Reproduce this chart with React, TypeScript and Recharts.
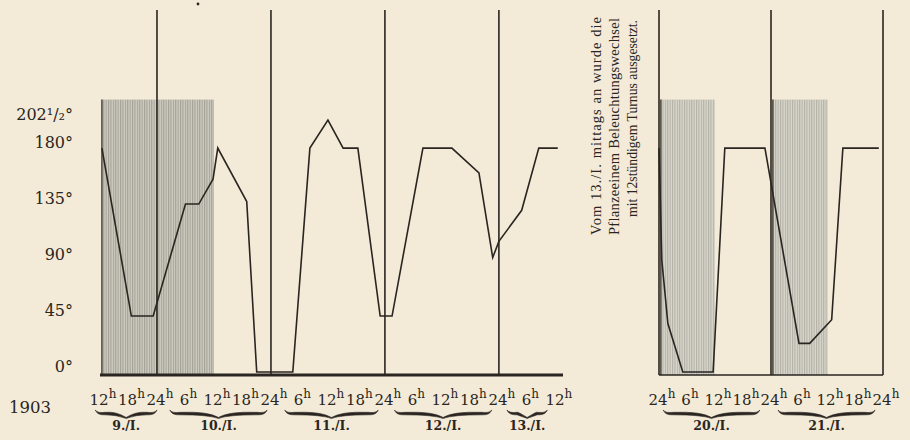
import React from 'react';
import { LineChart, Line, XAxis, YAxis, ReferenceArea, ReferenceLine } from 'recharts';

const INK = '#2a2521';
const PAPER = '#f3ebd8';
const SERIF = '"DejaVu Serif", serif';
const NOTE_FONT = '"Liberation Serif", serif';

// 9.–13./I.: hours counted from 9./I. 0h
const hoursA = [12.4, 18.6, 23.2, 30, 32.8, 35.8, 36.8, 42.9, 45, 52.6, 56.2, 60, 63.2, 66.3, 71, 73.5, 80, 86.1, 91.8, 94.7, 96, 100.8, 104.4, 108.4];
const angleA = [180, 45, 45, 135, 135, 155, 180, 137, 0, 0, 180, 202.5, 180, 180, 45, 45, 180, 180, 160, 92, 105, 130, 180, 180];

// 20.–21./I.: hours counted from 20./I. 0h
const hoursB = [0, 0.6, 1.9, 5.1, 11.6, 14.1, 22.7, 30, 32.3, 37, 39.4, 47.1];
const angleB = [180, 90, 39, 0, 0, 180, 180, 23, 23, 42, 180, 180];

const ticksA = [12, 18, 24, 30, 36, 42, 48, 54, 60, 66, 72, 78, 84, 90, 96, 102, 108];
const tickLabelsA = ['12', '18', '24', '6', '12', '18', '24', '6', '12', '18', '24', '6', '12', '18', '24', '6', '12'];
const ticksB = [0, 6, 12, 18, 24, 30, 36, 42, 48];
const tickLabelsB = ['24', '6', '12', '18', '24', '6', '12', '18', '24'];

const angleTicks = [0, 45, 90, 135, 180, 202.5];
const angleLabels = ['0°', '45°', '90°', '135°', '180°', '202¹/₂°'];

const midnightsA = [24, 48, 72, 96];
const midnightsB = [0, 24, 48];

// dark periods (shaded)
const darkFromA = [12.4];
const darkToA = [36];
const darkFromB = [0.4, 24.4];
const darkToB = [12, 36.2];
const shadeTop = 219;

const daysA = ['9./I.', '10./I.', '11./I.', '12./I.', '13./I.'];
const braceFromA = [11, 26.7, 50.9, 74, 97.7];
const braceToA = [24, 47.2, 70.6, 94.5, 106.2];
const daysB = ['20./I.', '21./I.'];
const braceFromB = [0.9, 25.5];
const braceToB = [21.6, 46.3];

const noteLines = ['Vom 13./I. mittags an wurde die', 'Pflanzeeinem Beleuchtungswechsel', 'mit 12stündigem Turnus ausgesetzt.'];

const dataA = hoursA.map((h, i) => ({ h, angle: angleA[i] }));
const dataB = hoursB.map((h, i) => ({ h, angle: angleB[i] }));

const Y_DOMAIN: [number, number] = [-2.4, 291];

const HourTick = (props: any) => {
  const { x, y, payload, labels, ticks } = props;
  const i = ticks.indexOf(payload.value);
  return (
    <text x={x + 3} y={y + 30} textAnchor="middle" fontFamily={SERIF} fontSize={15} fill={INK}>
      {labels[i]}
      <tspan fontSize={12} dy={-7}>h</tspan>
    </text>
  );
};

const AngleTick = (props: any) => {
  const { x, y, payload } = props;
  const i = angleTicks.indexOf(payload.value);
  return (
    <text x={x} y={y} textAnchor="end" fontFamily={SERIF} fontSize={16} fill={INK}>
      {angleLabels[i]}
    </text>
  );
};

// curly brace under a day, thick in the middle sections, thin at the tips
const braceShape = (label: string) => (p: any) => {
  const { x, y, width, height } = p;
  const x1 = x + width;
  const xm = x + width / 2;
  const mid = y + height * 0.45;
  const bot = y + height;
  const top = `M${x},${y} Q${x + 2},${mid} ${x + 10},${mid - 1} Q${xm - 10},${mid - 2} ${xm},${bot} Q${xm + 10},${mid - 2} ${x1 - 10},${mid - 1} Q${x1 - 2},${mid} ${x1},${y}`;
  const under = ` Q${x1 - 2},${mid + 2} ${x1 - 10},${mid + 1.5} Q${xm + 10},${mid + 1.5} ${xm},${bot + 1} Q${xm - 10},${mid + 1.5} ${x + 10},${mid + 1.5} Q${x + 2},${mid + 2} ${x},${y} Z`;
  return (
    <g>
      <path d={top + under} fill={INK} stroke={INK} strokeWidth={0.6} />
      <text x={xm} y={bot + 13} textAnchor="middle" fontFamily={SERIF} fontSize={12.5} fontWeight="bold" fill={INK}>
        {label}
      </text>
    </g>
  );
};

const shadeShape = (fill: string) => (p: any) => {
  const { x, y, width, height } = p;
  return (
    <g>
      <rect x={x} y={y} width={width} height={height} fill={fill} />
      <line x1={x} y1={y} x2={x} y2={y + height} stroke={INK} strokeWidth={1.2} />
    </g>
  );
};

const Hatch = ({ id, base, line }: { id: string; base: string; line: string }) => (
  <pattern id={id} width={2.4} height={10} patternUnits="userSpaceOnUse">
    <rect width={2.4} height={10} fill={base} />
    <line x1={0.6} y1={0} x2={0.6} y2={10} stroke={line} strokeWidth={0.9} />
  </pattern>
);

export default function App() {
  return (
    <div style={{ position: 'absolute', left: 0, top: 0, width: 910, height: 440, background: PAPER, overflow: 'hidden' }}>
      <div style={{ position: 'absolute', left: 0, top: 0 }}>
        <LineChart width={600} height={440} data={dataA} margin={{ top: 10, right: 37, bottom: 25, left: 0 }}>
          <defs>
            <Hatch id="hatchA" base="#cfccc1" line="#99968c" />
          </defs>
          <XAxis
            type="number"
            dataKey="h"
            domain={[12, 109.5]}
            ticks={ticksA}
            interval={0}
            tickLine={false}
            tickSize={0}
            tickMargin={0}
            height={40}
            axisLine={{ stroke: INK, strokeWidth: 3 }}
            tick={(p: any) => <HourTick {...p} labels={tickLabelsA} ticks={ticksA} />}
          />
          <YAxis
            type="number"
            domain={Y_DOMAIN}
            ticks={angleTicks}
            interval={0}
            width={100}
            axisLine={false}
            tickLine={false}
            tickSize={0}
            tickMargin={27}
            tick={(p: any) => <AngleTick {...p} />}
          />
          {darkFromA.map((f, i) => (
            <ReferenceArea key={`d${i}`} x1={f} x2={darkToA[i]} y1={Y_DOMAIN[0]} y2={shadeTop} shape={shadeShape('url(#hatchA)')} />
          ))}
          {midnightsA.map((m) => (
            <ReferenceLine key={m} x={m} stroke={INK} strokeWidth={1.6} />
          ))}
          {daysA.map((d, i) => (
            <ReferenceArea key={d} x1={braceFromA[i]} x2={braceToA[i]} y1={-30.5} y2={-36.5} ifOverflow="visible" shape={braceShape(d)} />
          ))}
          <Line type="linear" dataKey="angle" stroke={INK} strokeWidth={1.6} dot={false} isAnimationActive={false} />
        </LineChart>
      </div>
      <div style={{ position: 'absolute', left: 600, top: 0 }}>
        <LineChart width={310} height={440} data={dataB} margin={{ top: 10, right: 27, bottom: 25, left: 59 }}>
          <defs>
            <Hatch id="hatchB" base="#dad7cd" line="#aaa79e" />
          </defs>
          <XAxis
            type="number"
            dataKey="h"
            domain={[0, 48]}
            ticks={ticksB}
            interval={0}
            tickLine={false}
            tickSize={0}
            tickMargin={0}
            height={40}
            axisLine={{ stroke: INK, strokeWidth: 1.3 }}
            tick={(p: any) => <HourTick {...p} labels={tickLabelsB} ticks={ticksB} />}
          />
          <YAxis type="number" domain={Y_DOMAIN} hide />
          {darkFromB.map((f, i) => (
            <ReferenceArea key={`d${i}`} x1={f} x2={darkToB[i]} y1={Y_DOMAIN[0]} y2={shadeTop} shape={shadeShape('url(#hatchB)')} />
          ))}
          {midnightsB.map((m) => (
            <ReferenceLine key={m} x={m} stroke={INK} strokeWidth={1.6} />
          ))}
          {daysB.map((d, i) => (
            <ReferenceArea key={d} x1={braceFromB[i]} x2={braceToB[i]} y1={-30.5} y2={-36.5} ifOverflow="visible" shape={braceShape(d)} />
          ))}
          <Line type="linear" dataKey="angle" stroke={INK} strokeWidth={1.6} dot={false} isAnimationActive={false} />
        </LineChart>
      </div>
      <svg width={910} height={440} style={{ position: 'absolute', left: 0, top: 0, pointerEvents: 'none' }}>
        <text x={9} y={413} fontFamily={SERIF} fontSize={16.5} fill={INK}>1903</text>
        <circle cx={198} cy={4} r={1.4} fill={INK} />
        <g fontFamily={NOTE_FONT} fontSize={14.5} fill={INK}>
          <text transform="translate(601,235) rotate(-90)" textLength={218} lengthAdjust="spacing">
            {noteLines[0]}
          </text>
          <text transform="translate(619,235) rotate(-90)" textLength={217} lengthAdjust="spacing">
            {noteLines[1]}
          </text>
          <text transform="translate(637,217) rotate(-90)" textLength={197} lengthAdjust="spacingAndGlyphs">
            {noteLines[2]}
          </text>
        </g>
      </svg>
    </div>
  );
}
